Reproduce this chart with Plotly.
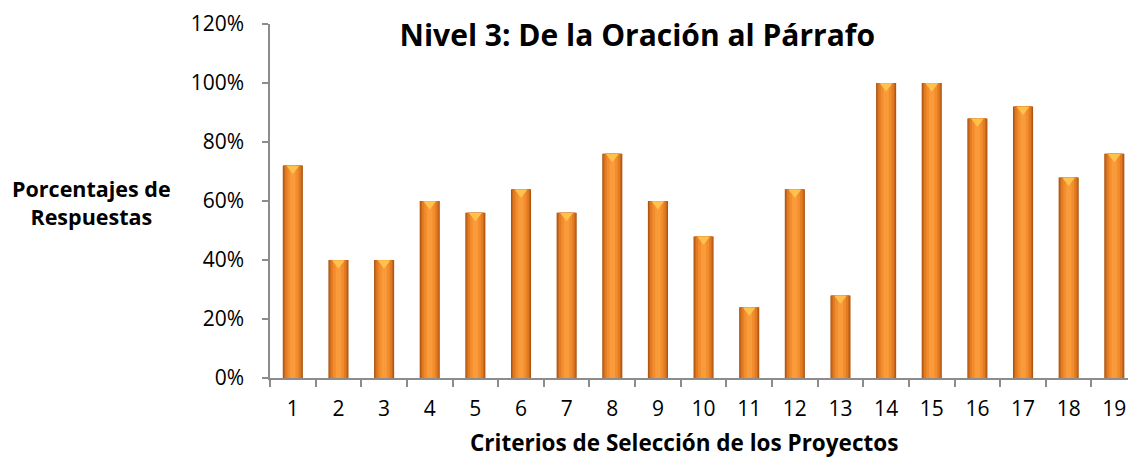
import plotly.graph_objects as go

# Criteria numbers and response percentages
criterios = [str(i) for i in range(1, 20)]
porcentajes = [72, 40, 40, 60, 56, 64, 56, 76, 60, 48, 24, 64, 28, 100, 100, 88, 92, 68, 76]
y_ticks = [0, 20, 40, 60, 80, 100, 120]
y_tick_text = [f"{v}%" for v in y_ticks]

FONT = "Open Sans"
AXIS_GREY = "#8c8c8c"

fig = go.Figure()

# Layered bars give a rounded, shaded column look (dark edges, bright centre)
layers = [
    (0.44, "#a9530f"),
    (0.40, "#c8661a"),
    (0.34, "#e27c23"),
    (0.24, "#f28c2d"),
    (0.12, "#fa9b3b"),
]
for w, c in layers:
    fig.add_trace(go.Bar(
        x=criterios, y=porcentajes, width=w,
        marker=dict(color=c, line=dict(width=0)),
        hoverinfo="skip", showlegend=False,
    ))

# Bevel highlight at the top of every column
fig.add_trace(go.Scatter(
    x=criterios, y=[v - 1.0 for v in porcentajes], mode="markers",
    marker=dict(symbol="triangle-down", size=11, color="#ffc24d",
                line=dict(width=0)),
    hoverinfo="skip", showlegend=False,
))

fig.update_layout(
    width=1128, height=464,
    barmode="overlay",
    margin=dict(l=270, r=0, t=24, b=86),
    paper_bgcolor="white", plot_bgcolor="white",
    font=dict(family=FONT, color="#000000"),
    title=dict(text="<b>Nivel 3: De la Oración al Párrafo</b>",
               font=dict(family=FONT, size=30, color="#000000"),
               xref="container", x=0.565, xanchor="center",
               yref="container", y=1 - 35 / 464, yanchor="middle"),
    xaxis=dict(
        range=[-0.5, 18.3], type="category",
        showline=True, linecolor=AXIS_GREY, linewidth=1.5,
        ticks="outside", ticklen=7, tickcolor=AXIS_GREY, tickwidth=1.5,
        tickson="boundaries", showgrid=False,
        tickfont=dict(family=FONT, size=21, color="#000000"),
        ticklabelstandoff=11,
    ),
    yaxis=dict(
        range=[0, 120], tickvals=y_ticks, ticktext=y_tick_text,
        showline=True, linecolor=AXIS_GREY, linewidth=1.5,
        ticks="outside", ticklen=6, tickcolor=AXIS_GREY, tickwidth=1.5,
        showgrid=False, zeroline=False,
        tickfont=dict(family=FONT, size=21, color="#000000"),
        ticklabelstandoff=14,
    ),
)

# Axis titles
fig.add_annotation(
    text="<b>Porcentajes de<br>Respuestas</b>",
    xref="paper", yref="paper", x=-(270 - 91) / 858, y=1 - (203 - 24) / 354,
    xanchor="center", yanchor="middle", showarrow=False,
    font=dict(family=FONT, size=21.5, color="#000000"), align="center",
)
fig.add_annotation(
    text="<b>Criterios de Selección de los Proyectos</b>",
    xref="paper", yref="paper", x=(684 - 270) / 858, y=-(442 - 378) / 354,
    xanchor="center", yanchor="middle", showarrow=False,
    font=dict(family=FONT, size=22.5, color="#000000"),
)

fig.write_html("out.html")
